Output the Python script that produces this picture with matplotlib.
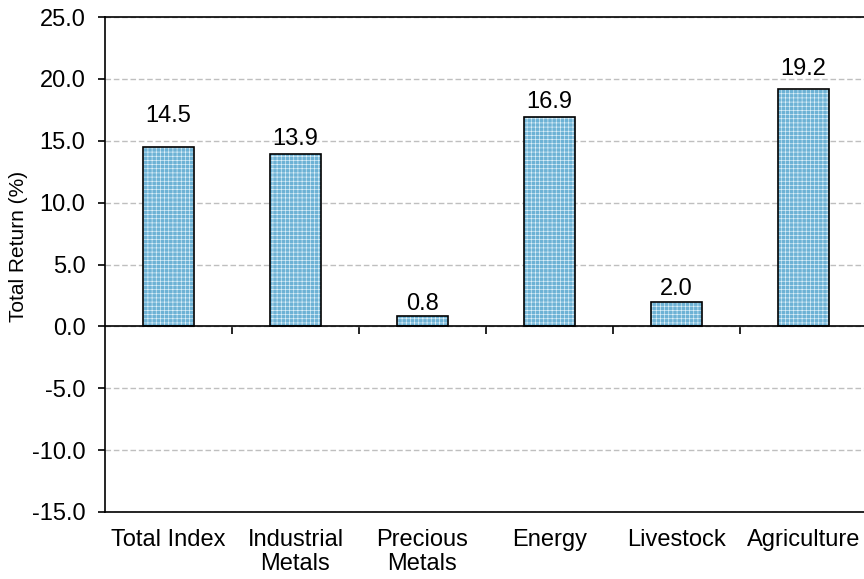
import matplotlib
matplotlib.use("Agg")
import matplotlib.pyplot as plt
import numpy as np

plt.rcParams['font.family'] = ['Liberation Sans', 'DejaVu Sans']
plt.rcParams['hatch.linewidth'] = 0.45

# Data
categories = ["Total Index", "Industrial\nMetals", "Precious\nMetals",
              "Energy", "Livestock", "Agriculture"]
returns = [14.5, 13.9, 0.8, 16.9, 2.0, 19.2]
value_labels = ["14.5", "13.9", "0.8", "16.9", "2.0", "19.2"]
y_ticks = [-15.0, -10.0, -5.0, 0.0, 5.0, 10.0, 15.0, 20.0, 25.0]

# Gap (points) between each bar top and its value label
label_gap_pt = [18, 7, 5, 7, 5, 10]

fig = plt.figure(figsize=(8.64, 5.79), dpi=100)
ax = fig.add_axes([105 / 864, 67 / 579, 762 / 864, 495 / 579])

x = np.arange(len(categories))
bar_w = 0.4
# Filled layer with a fine white cross-hatch, then a black outline on top
ax.bar(x, returns, width=bar_w, color='#6db2d5', edgecolor='#e2f2fa',
       hatch='++++', linewidth=0, zorder=2)
ax.bar(x, returns, width=bar_w, fill=False, edgecolor='black',
       linewidth=1.2, zorder=3)

for xi, v, lab, gap in zip(x, returns, value_labels, label_gap_pt):
    ax.annotate(lab, (xi, v), xytext=(0, gap), textcoords='offset points',
                ha='center', va='baseline', fontsize=17)

ax.set_xlim(-0.5, len(categories) - 0.5)
ax.set_ylim(-15, 25)
ax.set_yticks(y_ticks)
ax.set_yticklabels([f"{t:.1f}" for t in y_ticks], fontsize=17)
ax.set_ylabel("Total Return (%)", fontsize=15)
ax.yaxis.set_label_coords(-0.101, 0.537)

ax.set_xticks(x)
ax.set_xticklabels(categories, fontsize=17, linespacing=1.15)
ax.tick_params(axis='x', length=0, pad=12)
ax.tick_params(axis='y', direction='out', length=5, width=1.2, pad=9)

ax.yaxis.grid(True, color='#bfbfbf', linestyle=(0, (4, 2)), linewidth=1, zorder=0)
ax.set_axisbelow(True)

for side in ('left', 'top', 'bottom'):
    ax.spines[side].set_linewidth(1.2)
    ax.spines[side].set_color('black')
ax.spines['right'].set_visible(False)

# Zero line with category-boundary tick marks
ax.axhline(0, color='black', linewidth=1.2, zorder=2.5)
zero_frac = (0 - (-15)) / (25 - (-15))
zax = ax.secondary_xaxis(zero_frac)
zax.set_xticks(np.arange(0.5, len(categories), 1.0))
zax.set_xticklabels([])
zax.tick_params(direction='out', length=6, width=1.2, bottom=True, top=False)
zax.xaxis.set_ticks_position('bottom')
zax.spines['bottom'].set_visible(False)

fig.savefig("out.png", dpi=100)
